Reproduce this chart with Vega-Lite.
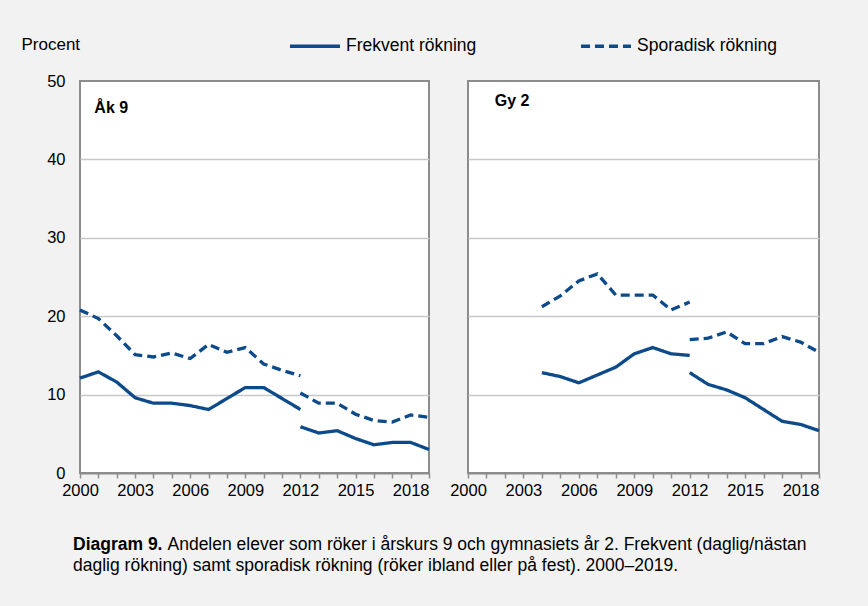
{
  "$schema": "https://vega.github.io/schema/vega-lite/v6.json",
  "background": "#f2f2f2",
  "padding": {"left": 20, "top": 19, "right": 48, "bottom": 46},
  "config": {
    "font": "Liberation Sans",
    "view": {"stroke": "#8c8c8c", "strokeWidth": 2, "fill": "white"},
    "axis": {
      "labelFont": "Liberation Sans",
      "labelFontSize": 16.5,
      "labelColor": "#000000",
      "domainColor": "#8c8c8c",
      "domainWidth": 2,
      "tickColor": "#8c8c8c",
      "tickWidth": 1.5,
      "gridWidth": 1.5
    },
    "title": {"font": "Liberation Sans", "fontSize": 17.5, "color": "#000000", "orient": "bottom", "anchor": "start"},
    "concat": {"spacing": 39}
  },
  "datasets": {
    "d": [
      {"p": "Åk 9", "m": "Frekvent rökning", "s": "a", "year": 2000, "v": 12.1},
      {"p": "Åk 9", "m": "Frekvent rökning", "s": "a", "year": 2001, "v": 12.9},
      {"p": "Åk 9", "m": "Frekvent rökning", "s": "a", "year": 2002, "v": 11.6},
      {"p": "Åk 9", "m": "Frekvent rökning", "s": "a", "year": 2003, "v": 9.6},
      {"p": "Åk 9", "m": "Frekvent rökning", "s": "a", "year": 2004, "v": 8.9},
      {"p": "Åk 9", "m": "Frekvent rökning", "s": "a", "year": 2005, "v": 8.9},
      {"p": "Åk 9", "m": "Frekvent rökning", "s": "a", "year": 2006, "v": 8.6},
      {"p": "Åk 9", "m": "Frekvent rökning", "s": "a", "year": 2007, "v": 8.1},
      {"p": "Åk 9", "m": "Frekvent rökning", "s": "a", "year": 2008, "v": 9.5},
      {"p": "Åk 9", "m": "Frekvent rökning", "s": "a", "year": 2009, "v": 10.9},
      {"p": "Åk 9", "m": "Frekvent rökning", "s": "a", "year": 2010, "v": 10.9},
      {"p": "Åk 9", "m": "Frekvent rökning", "s": "a", "year": 2011, "v": 9.5},
      {"p": "Åk 9", "m": "Frekvent rökning", "s": "a", "year": 2012, "v": 8.1},
      {"p": "Åk 9", "m": "Frekvent rökning", "s": "b", "year": 2012, "v": 5.9},
      {"p": "Åk 9", "m": "Frekvent rökning", "s": "b", "year": 2013, "v": 5.1},
      {"p": "Åk 9", "m": "Frekvent rökning", "s": "b", "year": 2014, "v": 5.4},
      {"p": "Åk 9", "m": "Frekvent rökning", "s": "b", "year": 2015, "v": 4.4},
      {"p": "Åk 9", "m": "Frekvent rökning", "s": "b", "year": 2016, "v": 3.6},
      {"p": "Åk 9", "m": "Frekvent rökning", "s": "b", "year": 2017, "v": 3.9},
      {"p": "Åk 9", "m": "Frekvent rökning", "s": "b", "year": 2018, "v": 3.9},
      {"p": "Åk 9", "m": "Frekvent rökning", "s": "b", "year": 2019, "v": 3.0},
      {"p": "Åk 9", "m": "Sporadisk rökning", "s": "a", "year": 2000, "v": 20.8},
      {"p": "Åk 9", "m": "Sporadisk rökning", "s": "a", "year": 2001, "v": 19.7},
      {"p": "Åk 9", "m": "Sporadisk rökning", "s": "a", "year": 2002, "v": 17.5},
      {"p": "Åk 9", "m": "Sporadisk rökning", "s": "a", "year": 2003, "v": 15.1},
      {"p": "Åk 9", "m": "Sporadisk rökning", "s": "a", "year": 2004, "v": 14.8},
      {"p": "Åk 9", "m": "Sporadisk rökning", "s": "a", "year": 2005, "v": 15.3},
      {"p": "Åk 9", "m": "Sporadisk rökning", "s": "a", "year": 2006, "v": 14.6},
      {"p": "Åk 9", "m": "Sporadisk rökning", "s": "a", "year": 2007, "v": 16.4},
      {"p": "Åk 9", "m": "Sporadisk rökning", "s": "a", "year": 2008, "v": 15.4},
      {"p": "Åk 9", "m": "Sporadisk rökning", "s": "a", "year": 2009, "v": 16.0},
      {"p": "Åk 9", "m": "Sporadisk rökning", "s": "a", "year": 2010, "v": 13.9},
      {"p": "Åk 9", "m": "Sporadisk rökning", "s": "a", "year": 2011, "v": 13.1},
      {"p": "Åk 9", "m": "Sporadisk rökning", "s": "a", "year": 2012, "v": 12.4},
      {"p": "Åk 9", "m": "Sporadisk rökning", "s": "b", "year": 2012, "v": 10.2},
      {"p": "Åk 9", "m": "Sporadisk rökning", "s": "b", "year": 2013, "v": 8.9},
      {"p": "Åk 9", "m": "Sporadisk rökning", "s": "b", "year": 2014, "v": 8.9},
      {"p": "Åk 9", "m": "Sporadisk rökning", "s": "b", "year": 2015, "v": 7.5},
      {"p": "Åk 9", "m": "Sporadisk rökning", "s": "b", "year": 2016, "v": 6.7},
      {"p": "Åk 9", "m": "Sporadisk rökning", "s": "b", "year": 2017, "v": 6.5},
      {"p": "Åk 9", "m": "Sporadisk rökning", "s": "b", "year": 2018, "v": 7.4},
      {"p": "Åk 9", "m": "Sporadisk rökning", "s": "b", "year": 2019, "v": 7.1},
      {"p": "Gy 2", "m": "Frekvent rökning", "s": "a", "year": 2004, "v": 12.8},
      {"p": "Gy 2", "m": "Frekvent rökning", "s": "a", "year": 2005, "v": 12.3},
      {"p": "Gy 2", "m": "Frekvent rökning", "s": "a", "year": 2006, "v": 11.5},
      {"p": "Gy 2", "m": "Frekvent rökning", "s": "a", "year": 2007, "v": 12.5},
      {"p": "Gy 2", "m": "Frekvent rökning", "s": "a", "year": 2008, "v": 13.5},
      {"p": "Gy 2", "m": "Frekvent rökning", "s": "a", "year": 2009, "v": 15.2},
      {"p": "Gy 2", "m": "Frekvent rökning", "s": "a", "year": 2010, "v": 16.0},
      {"p": "Gy 2", "m": "Frekvent rökning", "s": "a", "year": 2011, "v": 15.2},
      {"p": "Gy 2", "m": "Frekvent rökning", "s": "a", "year": 2012, "v": 15.0},
      {"p": "Gy 2", "m": "Frekvent rökning", "s": "b", "year": 2012, "v": 12.8},
      {"p": "Gy 2", "m": "Frekvent rökning", "s": "b", "year": 2013, "v": 11.3},
      {"p": "Gy 2", "m": "Frekvent rökning", "s": "b", "year": 2014, "v": 10.6},
      {"p": "Gy 2", "m": "Frekvent rökning", "s": "b", "year": 2015, "v": 9.6},
      {"p": "Gy 2", "m": "Frekvent rökning", "s": "b", "year": 2016, "v": 8.1},
      {"p": "Gy 2", "m": "Frekvent rökning", "s": "b", "year": 2017, "v": 6.6},
      {"p": "Gy 2", "m": "Frekvent rökning", "s": "b", "year": 2018, "v": 6.2},
      {"p": "Gy 2", "m": "Frekvent rökning", "s": "b", "year": 2019, "v": 5.4},
      {"p": "Gy 2", "m": "Sporadisk rökning", "s": "a", "year": 2004, "v": 21.2},
      {"p": "Gy 2", "m": "Sporadisk rökning", "s": "a", "year": 2005, "v": 22.6},
      {"p": "Gy 2", "m": "Sporadisk rökning", "s": "a", "year": 2006, "v": 24.5},
      {"p": "Gy 2", "m": "Sporadisk rökning", "s": "a", "year": 2007, "v": 25.4},
      {"p": "Gy 2", "m": "Sporadisk rökning", "s": "a", "year": 2008, "v": 22.7},
      {"p": "Gy 2", "m": "Sporadisk rökning", "s": "a", "year": 2009, "v": 22.7},
      {"p": "Gy 2", "m": "Sporadisk rökning", "s": "a", "year": 2010, "v": 22.7},
      {"p": "Gy 2", "m": "Sporadisk rökning", "s": "a", "year": 2011, "v": 20.8},
      {"p": "Gy 2", "m": "Sporadisk rökning", "s": "a", "year": 2012, "v": 21.8},
      {"p": "Gy 2", "m": "Sporadisk rökning", "s": "b", "year": 2012, "v": 17.0},
      {"p": "Gy 2", "m": "Sporadisk rökning", "s": "b", "year": 2013, "v": 17.2},
      {"p": "Gy 2", "m": "Sporadisk rökning", "s": "b", "year": 2014, "v": 18.0},
      {"p": "Gy 2", "m": "Sporadisk rökning", "s": "b", "year": 2015, "v": 16.5},
      {"p": "Gy 2", "m": "Sporadisk rökning", "s": "b", "year": 2016, "v": 16.5},
      {"p": "Gy 2", "m": "Sporadisk rökning", "s": "b", "year": 2017, "v": 17.4},
      {"p": "Gy 2", "m": "Sporadisk rökning", "s": "b", "year": 2018, "v": 16.7},
      {"p": "Gy 2", "m": "Sporadisk rökning", "s": "b", "year": 2019, "v": 15.4}
    ],
    "labels": [
      {"p": "Åk 9", "year": 2000.78, "v": 46.6},
      {"p": "Gy 2", "year": 2001.45, "v": 47.5}
    ]
  },
  "title": {
    "text": "Diagram 9.",
    "fontWeight": "bold",
    "offset": -38.5,
    "dx": 53
  },
  "vconcat": [
    {
      "title": {
        "text": "daglig rökning) samt sporadisk rökning (röker ibland eller på fest). 2000–2019.",
        "fontWeight": "normal",
        "offset": 3.5,
        "dx": 53
      },
      "vconcat": [
        {
          "title": {
            "text": "Andelen elever som röker i årskurs 9 och gymnasiets år 2. Frekvent (daglig/nästan",
            "fontWeight": "normal",
            "offset": 36,
            "dx": 147.5
          },
          "bounds": "flush",
          "hconcat": [
            {
              "width": 349,
              "height": 392,
              "encoding": {
                "x": {
                  "field": "year", "type": "quantitative",
                  "scale": {"domain": [2000, 2019], "nice": false, "zero": false},
                  "axis": {
                    "title": null, "grid": false, "format": "d",
                    "values": [2000,2001,2002,2003,2004,2005,2006,2007,2008,2009,2010,2011,2012,2013,2014,2015,2016,2017,2018,2019],
                    "labelExpr": "(datum.value - 2000) % 3 === 0 ? datum.label : ''",
                    "labelFlush": false, "labelOverlap": false, "tickSize": 5, "labelPadding": 4
                  }
                },
                "y": {
                  "field": "v", "type": "quantitative",
                  "scale": {"domain": [0, 50], "nice": false},
                  "axis": {
                    "values": [0, 10, 20, 30, 40, 50],
                    "title": "Procent", "titleAngle": 0, "titleAlign": "left", "titleBaseline": "alphabetic",
                    "titleX": -59, "titleY": -32, "titleFontSize": 17, "titleFontWeight": "normal", "titleColor": "#000000", "titleFont": "Liberation Sans",
                    "ticks": false, "domain": false, "labelPadding": 15, "grid": true,
                    "gridColor": {"condition": {"test": "datum.value === 0 || datum.value === 50", "value": "transparent"}, "value": "#c8c8c8"}
                  }
                }
              },
              "layer": [
                {
                  "data": {"name": "d"},
                  "transform": [{"filter": "datum.p === 'Åk 9'"}],
                  "mark": {"type": "line", "strokeWidth": 3.3, "color": "#0c4a89"},
                  "encoding": {
                    "strokeDash": {
                      "field": "m", "type": "nominal",
                      "scale": {"domain": ["Frekvent rökning", "Sporadisk rökning"], "range": [[1, 0], [9, 5]]},
                      "legend": {
                        "title": null, "orient": "none", "legendX": 208, "legendY": -62, "direction": "horizontal",
                        "symbolType": "stroke", "symbolSize": 2500, "symbolStrokeWidth": 3.5, "symbolStrokeColor": "#0c4a89",
                        "labelFontSize": 17.5, "labelColor": "#000000", "labelFont": "Liberation Sans", "labelOffset": 4,
                        "columnPadding": 97, "padding": 0
                      }
                    },
                    "detail": {"field": "s"}
                  }
                },
                {
                  "data": {"name": "labels"},
                  "transform": [{"filter": "datum.p === 'Åk 9'"}],
                  "mark": {"type": "text", "fontWeight": "bold", "fontSize": 16, "align": "left", "baseline": "middle", "font": "Liberation Sans", "color": "#000000"},
                  "encoding": {
                    "text": {"field": "p"}
                  }
                }
              ]
            },
            {
              "width": 351,
              "height": 392,
              "encoding": {
                "x": {
                  "field": "year", "type": "quantitative",
                  "scale": {"domain": [2000, 2019], "nice": false, "zero": false},
                  "axis": {
                    "title": null, "grid": false, "format": "d",
                    "values": [2000,2001,2002,2003,2004,2005,2006,2007,2008,2009,2010,2011,2012,2013,2014,2015,2016,2017,2018,2019],
                    "labelExpr": "(datum.value - 2000) % 3 === 0 ? datum.label : ''",
                    "labelFlush": false, "labelOverlap": false, "tickSize": 5, "labelPadding": 4
                  }
                },
                "y": {
                  "field": "v", "type": "quantitative",
                  "scale": {"domain": [0, 50], "nice": false},
                  "axis": {
                    "values": [0, 10, 20, 30, 40, 50],
                    "title": null, "labels": false, "ticks": false, "domain": false, "grid": true,
                    "gridColor": {"condition": {"test": "datum.value === 0 || datum.value === 50", "value": "transparent"}, "value": "#c8c8c8"}
                  }
                }
              },
              "layer": [
                {
                  "data": {"name": "d"},
                  "transform": [{"filter": "datum.p === 'Gy 2'"}],
                  "mark": {"type": "line", "strokeWidth": 3.3, "color": "#0c4a89"},
                  "encoding": {
                    "strokeDash": {
                      "field": "m", "type": "nominal",
                      "scale": {"domain": ["Frekvent rökning", "Sporadisk rökning"], "range": [[1, 0], [9, 5]]},
                      "legend": null
                    },
                    "detail": {"field": "s"}
                  }
                },
                {
                  "data": {"name": "labels"},
                  "transform": [{"filter": "datum.p === 'Gy 2'"}],
                  "mark": {"type": "text", "fontWeight": "bold", "fontSize": 16, "align": "left", "baseline": "middle", "font": "Liberation Sans", "color": "#000000"},
                  "encoding": {
                    "text": {"field": "p"}
                  }
                }
              ]
            }
          ]
        }
      ]
    }
  ]
}
